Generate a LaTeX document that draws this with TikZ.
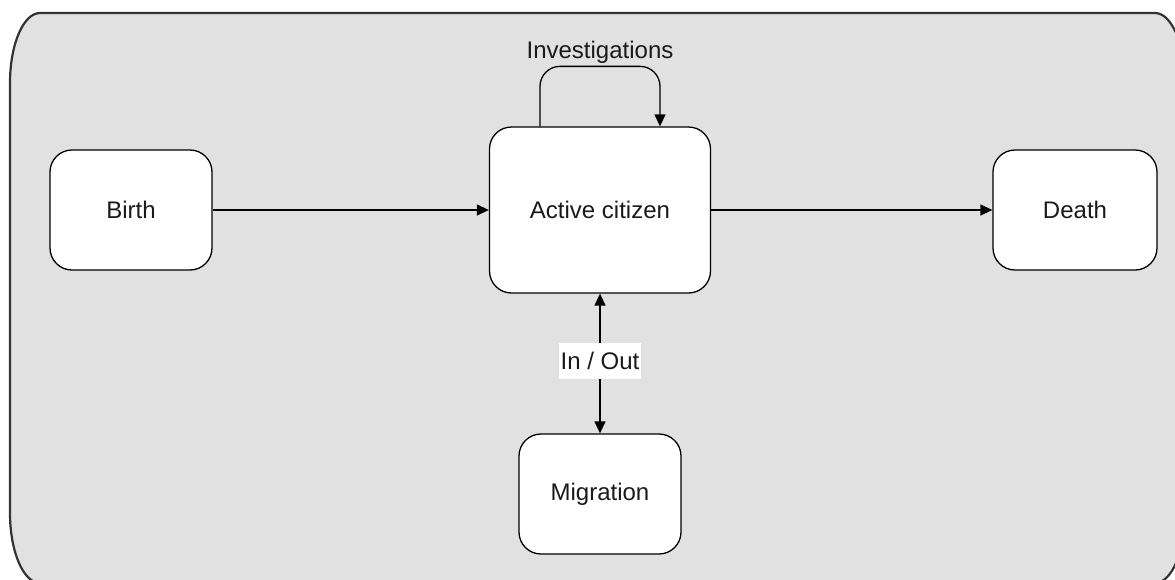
\documentclass[tikz,border=0pt]{standalone}
\usepackage{fontspec}
\setmainfont{Liberation Sans}
\usetikzlibrary{arrows.meta}
\definecolor{panel}{HTML}{E1E1E1}
\definecolor{rim}{HTML}{333333}
\definecolor{ink}{HTML}{1A1A1A}
\tikzset{
  state/.style={draw=black, line width=1.3pt, fill=white, rounded corners=22pt,
    text=ink, font=\fontsize{24}{28}\selectfont, inner sep=0pt},
  flow/.style={draw=black, line width=1.3pt, -{Triangle[length=12pt,width=11pt]}},
  twoway/.style={draw=black, line width=1.3pt,
    {Triangle[length=12pt,width=11pt]}-{Triangle[length=12pt,width=11pt]}},
  tag/.style={text=ink, font=\fontsize{24}{28}\selectfont, inner sep=1.5pt},
}
\begin{document}
\begin{tikzpicture}[x=1pt, y=-1pt]
  \useasboundingbox (0,0) rectangle (1175,579);
  \fill[white] (0,0) rectangle (1175,579);
  \begin{scope}
    \clip (0,0) rectangle (1175,579);
    % outer panel with elliptical corners
    \draw[rim, line width=2.2pt, fill=panel]
      (10,83) .. controls (10,44.3) and (23.4,13) .. (40,13)
      -- (1155,13) .. controls (1171.6,13) and (1185,44.3) .. (1185,83)
      -- (1185,513) .. controls (1185,551.7) and (1171.6,583) .. (1155,583)
      -- (40,583) .. controls (23.4,583) and (10,551.7) .. (10,513) -- cycle;
  \end{scope}

  % states
  \node[state, minimum width=162pt, minimum height=120pt] (birth) at (131,210) {Birth};
  \node[state, minimum width=221pt, minimum height=166pt] (active) at (600,210) {Active citizen};
  \node[state, minimum width=164pt, minimum height=120pt] (death) at (1075,210) {Death};
  \node[state, minimum width=162pt, minimum height=120pt] (migration) at (600,494) {Migration};

  % transitions
  \draw[flow] (birth) -- (active);
  \draw[flow] (active) -- (death);
  \draw[twoway] (active) -- node[tag, fill=white, pos=0.48, minimum height=36pt] (inout) {In / Out} (migration);

  % self-loop on the active state
  \coordinate (loopstart) at ([xshift=-60pt]active.north);
  \coordinate (loopend) at ([xshift=60pt]active.north);
  \draw[flow, rounded corners=20pt] (loopstart) -- ++(0,-60) -- ++(120,0)
    node[midway, above=1pt, tag] (inv) {Investigations} -- (loopend);
\end{tikzpicture}
\end{document}
